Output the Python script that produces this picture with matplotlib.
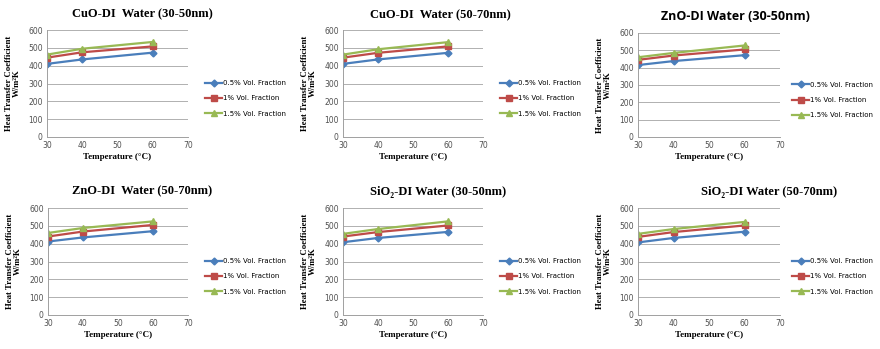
import matplotlib.pyplot as plt
import numpy as np

temps = [30, 40, 60]
labels = ['0.5% Vol. Fraction', '1% Vol. Fraction', '1.5% Vol. Fraction']

titles = ['CuO-DI  Water (30-50nm)', 'CuO-DI  Water (50-70nm)', 'ZnO-DI Water (30-50nm)',
          'ZnO-DI  Water (50-70nm)', 'SiO\u2082-DI Water (30-50nm)', 'SiO\u2082-DI Water (50-70nm)']

# heat transfer coefficient (W/m2K) per panel: 0.5%, 1%, 1.5%
cuo_30_50 = [[410, 435, 473], [445, 475, 508], [462, 495, 533]]
cuo_50_70 = [[410, 435, 472], [445, 472, 508], [462, 492, 532]]
zno_30_50 = [[415, 438, 472], [445, 470, 505], [460, 485, 528]]
zno_50_70 = [[412, 435, 470], [440, 468, 505], [460, 488, 525]]
sio2_30_50 = [[408, 432, 466], [440, 465, 502], [455, 482, 525]]
sio2_50_70 = [[407, 432, 467], [438, 465, 502], [455, 482, 522]]
panels = [cuo_30_50, cuo_50_70, zno_30_50, zno_50_70, sio2_30_50, sio2_50_70]

colors = ['#4a7ebb', '#be4b48', '#98b954']
markers = ['D', 's', '^']
msizes = [3.5, 4.5, 5]

W, H = 880, 349
# axes boxes in pixels: left, top, right, bottom
boxes = [(47, 30, 188, 137), (343, 30, 483, 137), (638, 33, 780, 137),
         (48, 208, 188, 315), (343, 208, 483, 315), (638, 208, 780, 315)]
title_pos = [(142, 14), (440, 15), (735, 17), (142, 191), (438, 192), (769, 192)]
legend_x = [199, 494, 786, 199, 494, 786]

serif = ['Liberation Serif', 'DejaVu Serif']

fig = plt.figure(figsize=(W / 100, H / 100), dpi=100)

for i, data in enumerate(panels):
    l, t, r, b = boxes[i]
    ax = fig.add_axes([l / W, 1 - b / H, (r - l) / W, (b - t) / H])
    for j in range(3):
        ax.plot(temps, data[j], color=colors[j], marker=markers[j], ms=msizes[j],
                lw=1.6, label=labels[j])
    ax.set_xlim(30, 70)
    ax.set_ylim(0, 600)
    ax.set_xticks([30, 40, 50, 60, 70])
    ax.set_yticks(range(0, 601, 100))
    ax.grid(axis='y', color='#b0b0b0', lw=0.7)
    ax.set_axisbelow(True)
    for s in ['top', 'right']:
        ax.spines[s].set_visible(False)
    for s in ['left', 'bottom']:
        ax.spines[s].set_color('#a0a0a0')
        ax.spines[s].set_linewidth(0.7)
    ax.tick_params(labelsize=5.5, colors='#505050', length=0, pad=3)
    ax.set_xlabel('Temperature (\u00b0C)', fontsize=6.5, fontweight='bold',
                  family=serif, labelpad=2)
    ax.set_ylabel('Heat Transfer Coefficient\nW/m\u00b2K', fontsize=6.3, fontweight='bold',
                  family=serif, labelpad=5, linespacing=1.0)
    ax.legend(loc='center left', bbox_to_anchor=(legend_x[i] / W, 1 - ((t + b) / 2 + 15) / H),
              bbox_transform=fig.transFigure, frameon=False, fontsize=5.0,
              handlelength=2.4, labelspacing=1.35, handletextpad=0.15)
    tx, ty = title_pos[i]
    if i == 2:
        fig.text(tx / W, 1 - ty / H, titles[i], ha='center', va='center', fontsize=9,
                 fontweight='bold', family=['Open Sans', 'DejaVu Sans'])
    else:
        fig.text(tx / W, 1 - ty / H, titles[i], ha='center', va='center', fontsize=9,
                 fontweight='bold', family=serif)

fig.savefig('out.png', dpi=100)
